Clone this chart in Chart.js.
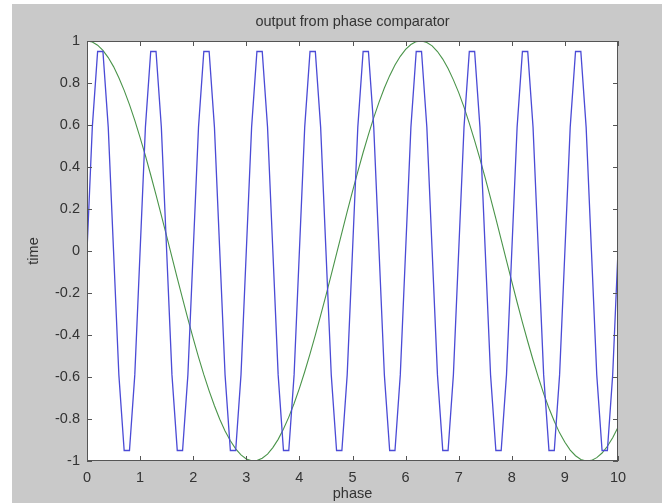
<!DOCTYPE html>
<html>
<head>
<meta charset="utf-8">
<script src="https://cdn.jsdelivr.net/npm/chart.js@4"></script>
<style>
  html, body { margin: 0; padding: 0; background: #fff; }
  #wrap { width: 667px; height: 503px; }
</style>
</head>
<body>
<div id="wrap"><canvas id="phaseChart" width="667" height="503"></canvas></div>
<script>
// phase samples (step 0.1)
const phase = [
  0, 0.1, 0.2, 0.3, 0.4, 0.5, 0.6, 0.7, 0.8, 0.9,
  1, 1.1, 1.2, 1.3, 1.4, 1.5, 1.6, 1.7, 1.8, 1.9,
  2, 2.1, 2.2, 2.3, 2.4, 2.5, 2.6, 2.7, 2.8, 2.9,
  3, 3.1, 3.2, 3.3, 3.4, 3.5, 3.6, 3.7, 3.8, 3.9,
  4, 4.1, 4.2, 4.3, 4.4, 4.5, 4.6, 4.7, 4.8, 4.9,
  5, 5.1, 5.2, 5.3, 5.4, 5.5, 5.6, 5.7, 5.8, 5.9,
  6, 6.1, 6.2, 6.3, 6.4, 6.5, 6.6, 6.7, 6.8, 6.9,
  7, 7.1, 7.2, 7.3, 7.4, 7.5, 7.6, 7.7, 7.8, 7.9,
  8, 8.1, 8.2, 8.3, 8.4, 8.5, 8.6, 8.7, 8.8, 8.9,
  9, 9.1, 9.2, 9.3, 9.4, 9.5, 9.6, 9.7, 9.8, 9.9,
  10
];

// blue trace - comparator output
const comparatorOut = [
  0, 0.59, 0.95, 0.95, 0.59, 0, -0.59, -0.95, -0.95, -0.59,
  0, 0.59, 0.95, 0.95, 0.59, 0, -0.59, -0.95, -0.95, -0.59,
  0, 0.59, 0.95, 0.95, 0.59, 0, -0.59, -0.95, -0.95, -0.59,
  0, 0.59, 0.95, 0.95, 0.59, 0, -0.59, -0.95, -0.95, -0.59,
  0, 0.59, 0.95, 0.95, 0.59, 0, -0.59, -0.95, -0.95, -0.59,
  0, 0.59, 0.95, 0.95, 0.59, 0, -0.59, -0.95, -0.95, -0.59,
  0, 0.59, 0.95, 0.95, 0.59, 0, -0.59, -0.95, -0.95, -0.59,
  0, 0.59, 0.95, 0.95, 0.59, 0, -0.59, -0.95, -0.95, -0.59,
  0, 0.59, 0.95, 0.95, 0.59, 0, -0.59, -0.95, -0.95, -0.59,
  0, 0.59, 0.95, 0.95, 0.59, 0, -0.59, -0.95, -0.95, -0.59,
  0
];

// green trace - slow reference
const reference = [
  1.00, 0.995, 0.98, 0.955, 0.921, 0.878, 0.825, 0.765, 0.697, 0.622,
  0.54, 0.454, 0.362, 0.267, 0.17, 0.071, -0.029, -0.129, -0.227, -0.323,
  -0.416, -0.505, -0.589, -0.666, -0.737, -0.801, -0.857, -0.904, -0.942, -0.971,
  -0.99, -0.999, -0.998, -0.987, -0.967, -0.936, -0.897, -0.848, -0.791, -0.726,
  -0.654, -0.575, -0.49, -0.401, -0.307, -0.211, -0.112, -0.012, 0.087, 0.187,
  0.284, 0.378, 0.469, 0.554, 0.635, 0.709, 0.776, 0.835, 0.886, 0.927,
  0.96, 0.983, 0.997, 1.00, 0.993, 0.977, 0.95, 0.914, 0.869, 0.815,
  0.754, 0.685, 0.608, 0.526, 0.439, 0.347, 0.252, 0.154, 0.054, -0.046,
  -0.146, -0.244, -0.34, -0.431, -0.519, -0.602, -0.679, -0.749, -0.811, -0.866,
  -0.911, -0.948, -0.975, -0.993, -1.00, -0.997, -0.984, -0.962, -0.93, -0.889,
  -0.839
];

const xTicks = [0, 1, 2, 3, 4, 5, 6, 7, 8, 9, 10];
const yTicks = [-1, -0.8, -0.6, -0.4, -0.2, 0, 0.2, 0.4, 0.6, 0.8, 1];
const yTickLabels = ['-1', '-0.8', '-0.6', '-0.4', '-0.2', '0', '0.2', '0.4', '0.6', '0.8', '1'];

const chartTitle = 'output from phase comparator';
const textColor = '#333';
const fontFamily = "'Liberation Sans', Arial, sans-serif";
const fontSize = 14.5;

// gray figure, white axes, inward ticks and the title (matlab look)
const matlabFrame = {
  id: 'matlabFrame',
  beforeDraw(chart) {
    const c = chart.ctx;
    const a = chart.chartArea;
    c.save();
    c.fillStyle = '#fff';
    c.fillRect(0, 0, chart.width, chart.height);
    c.fillStyle = '#c9c9c9';
    c.fillRect(12, 4, chart.width - 17, chart.height - 4);
    c.fillStyle = '#fff';
    c.fillRect(a.left, a.top, a.right - a.left, a.bottom - a.top);
    c.restore();
  },
  afterDraw(chart) {
    const c = chart.ctx;
    const a = chart.chartArea;
    const xs = chart.scales.x;
    const ys = chart.scales.y;
    c.save();
    c.strokeStyle = '#555';
    c.lineWidth = 1;
    c.strokeRect(a.left + 0.5, a.top + 0.5, a.right - a.left - 1, a.bottom - a.top - 1);
    c.beginPath();
    xTicks.forEach(v => {
      const px = Math.round(xs.getPixelForValue(v)) + 0.5;
      c.moveTo(px, a.bottom); c.lineTo(px, a.bottom - 5);
      c.moveTo(px, a.top); c.lineTo(px, a.top + 5);
    });
    yTicks.forEach(v => {
      const py = Math.round(ys.getPixelForValue(v)) + 0.5;
      c.moveTo(a.left, py); c.lineTo(a.left + 5, py);
      c.moveTo(a.right, py); c.lineTo(a.right - 5, py);
    });
    c.stroke();
    c.fillStyle = textColor;
    c.font = fontSize + 'px ' + fontFamily;
    c.textAlign = 'center';
    c.textBaseline = 'middle';
    c.fillText(chartTitle, (a.left + a.right) / 2, a.top - 19);
    c.restore();
  }
};

const ctx = document.getElementById('phaseChart').getContext('2d');
const phaseChart = new Chart(ctx, {
  type: 'line',
  data: {
    datasets: [
      {
        label: 'comparator',
        data: phase.map((p, i) => ({ x: p, y: comparatorOut[i] })),
        borderColor: '#4b4bd6',
        borderWidth: 1.3,
        pointRadius: 0,
        tension: 0,
        fill: false
      },
      {
        label: 'reference',
        data: phase.map((p, i) => ({ x: p, y: reference[i] })),
        borderColor: '#4a944a',
        borderWidth: 1.1,
        pointRadius: 0,
        tension: 0,
        fill: false
      }
    ]
  },
  options: {
    responsive: false,
    animation: false,
    layout: { padding: { top: 41, right: 49, bottom: 0, left: 0 } },
    scales: {
      x: {
        type: 'linear',
        min: 0,
        max: 10,
        afterBuildTicks: s => { s.ticks = xTicks.map(v => ({ value: v })); },
        afterFit: s => { s.height = 42; },
        grid: { display: false, drawTicks: false },
        border: { display: false },
        ticks: {
          padding: 8,
          color: textColor,
          font: { family: fontFamily, size: fontSize },
          maxRotation: 0,
          callback: v => String(v)
        },
        title: {
          display: true,
          text: 'phase',
          color: textColor,
          font: { family: fontFamily, size: fontSize },
          padding: { top: 0, bottom: 0 }
        }
      },
      y: {
        type: 'linear',
        min: -1,
        max: 1,
        afterBuildTicks: s => { s.ticks = yTicks.map(v => ({ value: v })); },
        afterFit: s => { s.width = 87; },
        grid: { display: false, drawTicks: false },
        border: { display: false },
        ticks: {
          padding: 7,
          color: textColor,
          font: { family: fontFamily, size: fontSize },
          callback: (v, i) => yTickLabels[i]
        },
        title: {
          display: true,
          text: 'time',
          color: textColor,
          font: { family: fontFamily, size: fontSize },
          padding: { top: 25, bottom: 0 }
        }
      }
    },
    plugins: {
      legend: { display: false },
      tooltip: { enabled: false }
    }
  },
  plugins: [matlabFrame]
});
</script>
</body>
</html>
